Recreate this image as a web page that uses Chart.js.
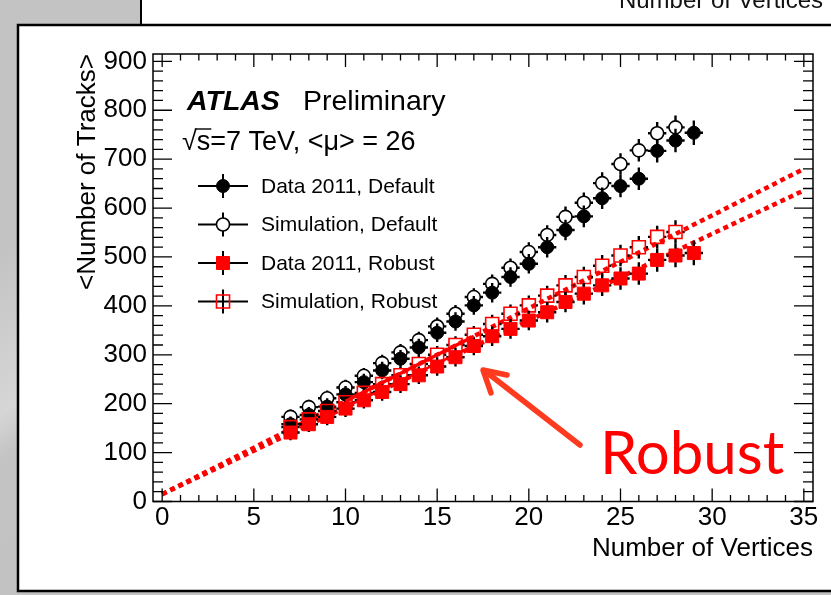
<!DOCTYPE html>
<html>
<head>
<meta charset="utf-8">
<script src="https://cdn.jsdelivr.net/npm/chart.js@4.4.1/dist/chart.umd.min.js"></script>
<style>
  html, body { margin: 0; padding: 0; background: #c5c5c5; }
  #wrap { width: 831px; height: 595px; }
</style>
</head>
<body>
<div id="wrap"><canvas id="my_chart" width="831" height="595"></canvas></div>
<script>
// ---- data ----
const nVtxData = [7, 8, 9, 10, 11, 12, 13, 14, 15, 16, 17, 18, 19, 20, 21, 22, 23, 24, 25, 26, 27, 28, 29];
const nVtxSim = [7, 8, 9, 10, 11, 12, 13, 14, 15, 16, 17, 18, 19, 20, 21, 22, 23, 24, 25, 26, 27, 28];

const dataDefault = [158, 177, 194, 219, 244, 268, 292, 315, 345, 368, 401, 427, 459, 486, 520, 555, 583, 620, 645, 660, 717, 738, 754];
const simDefault = [173, 193, 211, 233, 257, 283, 305, 330, 358, 384, 418, 445, 478, 510, 545, 582, 611, 651, 690, 718, 753, 765];
const dataRobust = [141, 158, 173, 190, 207, 224, 240, 258, 276, 295, 318, 338, 353, 370, 387, 408, 425, 442, 456, 466, 494, 503, 508];
const simRobust = [152, 168, 185, 203, 222, 240, 258, 281, 300, 320, 341, 363, 384, 401, 421, 442, 459, 482, 503, 520, 541, 551];

const errData = [16, 16, 17, 17, 17, 18, 18, 18, 19, 19, 19, 20, 20, 20, 21, 21, 22, 22, 23, 23, 24, 24, 25];
const errSim = [15, 15, 16, 16, 16, 17, 17, 17, 18, 18, 18, 19, 19, 20, 20, 21, 21, 22, 22, 23, 23, 24];

// linear fits: solid in fit range, dotted extrapolation
const fitSimX = [0, 35];
const fitSimY = [15, 680];
const fitDataX = [0, 35];
const fitDataY = [15, 636];
const fitRangeX = [10, 17];
const fitRangeSimY = [205, 338];
const fitRangeDataY = [193, 318];

const xTicks = [0, 5, 10, 15, 20, 25, 30, 35];
const yTicks = [0, 100, 200, 300, 400, 500, 600, 700, 800, 900];

const FONT = "'Liberation Sans', Arial, Helvetica, sans-serif";
const RED = '#ff0000';

const pts = (xs, ys) => xs.map((x, i) => ({x: x, y: ys[i]}));

const errorBars = {
  id: 'errorBars',
  beforeDatasetDraw(chart, args) {
    const ds = chart.data.datasets[args.index];
    if (!ds.yErr) return;
    const {ctx, chartArea: a, scales: {x, y}} = chart;
    const gap = ds.hollow ? ds.gap : 0;
    ctx.save();
    ctx.beginPath();
    ctx.rect(a.left, a.top, a.right - a.left, a.bottom - a.top);
    ctx.clip();
    ctx.strokeStyle = '#000';
    ctx.lineWidth = 2.4;
    ctx.beginPath();
    ds.data.forEach((p, i) => {
      const px = x.getPixelForValue(p.x), py = y.getPixelForValue(p.y);
      const x0 = x.getPixelForValue(p.x - 0.5), x1 = x.getPixelForValue(p.x + 0.5);
      const y0 = y.getPixelForValue(p.y - ds.yErr[i]), y1 = y.getPixelForValue(p.y + ds.yErr[i]);
      ctx.moveTo(x0, py); ctx.lineTo(px - gap, py);
      ctx.moveTo(px + gap, py); ctx.lineTo(x1, py);
      ctx.moveTo(px, y0); ctx.lineTo(px, py + gap);
      ctx.moveTo(px, py - gap); ctx.lineTo(px, y1);
    });
    ctx.stroke();
    ctx.restore();
  }
};

function drawMarker(ctx, ds, cx, cy) {
  ctx.save();
  ctx.lineWidth = ds.pointBorderWidth;
  ctx.strokeStyle = ds.pointBorderColor;
  ctx.fillStyle = ds.pointBackgroundColor;
  ctx.beginPath();
  if (ds.pointStyle === 'rect') {
    const h = ds.pointRadius * Math.SQRT1_2;
    ctx.rect(cx - h, cy - h, 2 * h, 2 * h);
  } else {
    ctx.arc(cx, cy, ds.pointRadius, 0, Math.PI * 2);
  }
  ctx.fill();
  ctx.stroke();
  ctx.restore();
}

const slide = {
  id: 'slide',
  beforeDraw(chart) {
    const ctx = chart.ctx;
    ctx.save();
    const g = ctx.createLinearGradient(0, 250, 140, 450);
    g.addColorStop(0, '#c3c3c3');
    g.addColorStop(0.55, '#d6d6d6');
    g.addColorStop(0.7, '#c4c4c4');
    g.addColorStop(1, '#c2c2c2');
    ctx.fillStyle = g;
    ctx.fillRect(0, 0, 831, 595);
    // upper box (previous plot)
    ctx.fillStyle = '#fff';
    ctx.fillRect(140, 0, 691, 25);
    ctx.fillStyle = '#111';
    ctx.font = '24px ' + FONT;
    ctx.textAlign = 'right';
    ctx.fillText('Number of Vertices', 823, 8);
    ctx.strokeStyle = '#000';
    ctx.lineWidth = 2;
    ctx.beginPath();
    ctx.moveTo(141, 0); ctx.lineTo(141, 25);
    ctx.stroke();
    // lower box
    ctx.fillStyle = '#fff';
    ctx.fillRect(18, 25, 820, 566);
    ctx.lineWidth = 2.5;
    ctx.strokeRect(18, 25, 830, 566);
    ctx.restore();
  },
  afterDatasetsDraw(chart) {
    const {ctx, chartArea: a, scales: {x, y}} = chart;
    ctx.save();
    ctx.strokeStyle = '#000';
    ctx.lineWidth = 1.5;
    ctx.strokeRect(a.left, a.top, a.right - a.left, a.bottom - a.top);
    ctx.lineWidth = 1.3;
    ctx.beginPath();
    for (let v = 0; v <= 35; v++) {
      const px = x.getPixelForValue(v);
      const len = v % 5 === 0 ? 13 : 6.5;
      ctx.moveTo(px, a.bottom); ctx.lineTo(px, a.bottom - len);
      ctx.moveTo(px, a.top); ctx.lineTo(px, a.top + len);
    }
    for (let v = 0; v <= 900; v += 20) {
      const py = y.getPixelForValue(v);
      const len = v % 100 === 0 ? 19 : 10;
      ctx.moveTo(a.left, py); ctx.lineTo(a.left + len, py);
      ctx.moveTo(a.right, py); ctx.lineTo(a.right - len, py);
    }
    ctx.stroke();
    ctx.restore();
  },
  afterDraw(chart) {
    const ctx = chart.ctx;
    ctx.save();
    ctx.fillStyle = '#000';
    ctx.textAlign = 'left';
    ctx.textBaseline = 'alphabetic';
    ctx.font = 'italic bold 28.5px ' + FONT;
    ctx.fillText('ATLAS', 187, 110);
    ctx.font = '28.5px ' + FONT;
    ctx.fillText('Preliminary', 303, 110);
    ctx.font = '27px ' + FONT;
    const t = '\u221As=7 TeV, <\u03bc> = 26';
    ctx.fillText(t, 182, 150);
    const wr = ctx.measureText('\u221A').width, ws = ctx.measureText('\u221As').width;
    ctx.lineWidth = 1.4;
    ctx.beginPath();
    ctx.moveTo(182 + wr - 2, 129); ctx.lineTo(182 + ws + 1, 129);
    ctx.stroke();

    // legend
    ctx.font = '21px ' + FONT;
    ctx.textBaseline = 'middle';
    chart.data.datasets.filter(d => d.legendRow !== undefined).forEach(ds => {
      const ly = 186 + ds.legendRow * 38.5;
      const lx = 223;
      ctx.strokeStyle = '#000';
      ctx.lineWidth = 2;
      ctx.beginPath();
      ctx.moveTo(198, ly); ctx.lineTo(248, ly);
      ctx.moveTo(lx, ly - 12); ctx.lineTo(lx, ly + 12);
      ctx.stroke();
      drawMarker(ctx, ds, lx, ly);
      ctx.fillStyle = '#000';
      ctx.fillText(ds.label, 261, ly + 1);
    });

    // annotation
    ctx.strokeStyle = '#ff3b1f';
    ctx.lineWidth = 5.5;
    ctx.lineCap = 'round';
    ctx.lineJoin = 'round';
    ctx.beginPath();
    ctx.moveTo(580, 445); ctx.lineTo(485, 371);
    ctx.moveTo(507, 375); ctx.lineTo(483, 370); ctx.lineTo(491, 393);
    ctx.stroke();
    ctx.fillStyle = RED;
    ctx.font = "60px Lato, 'Open Sans', sans-serif";
    ctx.textBaseline = 'alphabetic';
    ctx.fillText('Robust', 600, 474);
    ctx.restore();
  }
};

const ctx = document.getElementById('my_chart');
const tickFont = {family: FONT, size: 26};

const myChart = new Chart(ctx, {
  type: 'scatter',
  data: {
    datasets: [
      {label: 'fit range sim', data: pts(fitRangeX, fitRangeSimY), showLine: true, borderColor: RED, borderWidth: 3.5, pointRadius: 0, order: 0},
      {label: 'fit range data', data: pts(fitRangeX, fitRangeDataY), showLine: true, borderColor: RED, borderWidth: 2.5, pointRadius: 0, order: 0},
      {label: 'Data 2011, Robust', data: pts(nVtxData, dataRobust), yErr: errData, legendRow: 2,
        pointStyle: 'rect', pointRadius: 9.2, pointBackgroundColor: RED, pointBorderColor: RED, pointBorderWidth: 1, order: 1},
      {label: 'Simulation, Robust', data: pts(nVtxSim, simRobust), yErr: errSim, legendRow: 3, hollow: true, gap: 6.5,
        pointStyle: 'rect', pointRadius: 9.2, pointBackgroundColor: 'rgba(0,0,0,0)', pointBorderColor: RED, pointBorderWidth: 1.6, order: 2},
      {label: 'Data 2011, Default', data: pts(nVtxData, dataDefault), yErr: errData, legendRow: 0,
        pointStyle: 'circle', pointRadius: 6.5, pointBackgroundColor: '#000', pointBorderColor: '#000', pointBorderWidth: 1, order: 3},
      {label: 'Simulation, Default', data: pts(nVtxSim, simDefault), yErr: errSim, legendRow: 1, hollow: true, gap: 6.5,
        pointStyle: 'circle', pointRadius: 6.5, pointBackgroundColor: '#fff', pointBorderColor: '#000', pointBorderWidth: 1.6, order: 4},
      {label: 'fit sim', data: pts(fitSimX, fitSimY), showLine: true, borderColor: RED, borderWidth: 4.5, borderDash: [5, 4], pointRadius: 0, order: 10},
      {label: 'fit data', data: pts(fitDataX, fitDataY), showLine: true, borderColor: RED, borderWidth: 4.5, borderDash: [5, 4], pointRadius: 0, order: 10}
    ]
  },
  options: {
    responsive: false,
    animation: false,
    devicePixelRatio: 1,
    layout: {padding: {left: 0, right: 18, top: 54, bottom: 0}},
    plugins: {legend: {display: false}, tooltip: {enabled: false}},
    scales: {
      x: {
        type: 'linear', min: -0.5, max: 35.5,
        afterBuildTicks: s => { s.ticks = xTicks.map(v => ({value: v})); },
        afterFit: s => { s.height = 93.5; },
        grid: {display: false, drawTicks: false},
        border: {display: false},
        ticks: {font: tickFont, color: '#000', padding: 1, maxRotation: 0, autoSkip: false},
        title: {display: true, text: 'Number of Vertices', align: 'end', color: '#000',
          font: {family: FONT, size: 26}, padding: {top: 0, bottom: 31}}
      },
      y: {
        type: 'linear', min: 0, max: 915,
        afterBuildTicks: s => { s.ticks = yTicks.map(v => ({value: v})); },
        afterFit: s => { s.width = 153; },
        grid: {display: false, drawTicks: false},
        border: {display: false},
        ticks: {font: tickFont, color: '#000', padding: 6, autoSkip: false},
        title: {display: true, text: '<Number of Tracks>', align: 'end', color: '#000',
          font: {family: FONT, size: 26}, padding: {top: 72, bottom: 0}}
      }
    }
  },
  plugins: [slide, errorBars]
});
</script>
</body>
</html>
